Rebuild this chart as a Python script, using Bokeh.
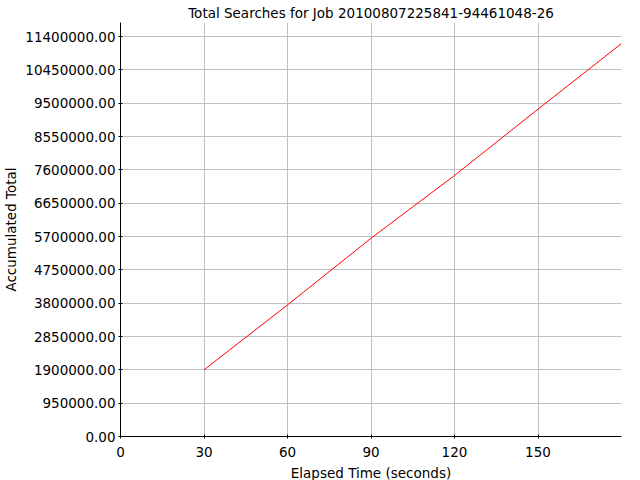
from bokeh.plotting import figure
from bokeh.models import FixedTicker, NumeralTickFormatter, Range1d
from bokeh.embed import file_html
from bokeh.resources import INLINE

# Data
elapsed_seconds = [30, 60, 90, 120, 150, 180]
accumulated_total = [1900000, 3750000, 5650000, 7440000, 9330000, 11200000]

x_ticks = [0, 30, 60, 90, 120, 150]
y_ticks = [0, 950000, 1900000, 2850000, 3800000, 4750000, 5700000,
           6650000, 7600000, 8550000, 9500000, 10450000, 11400000]

FONT = "DejaVu Sans"

p = figure(
    frame_width=501, frame_height=414,
    output_backend="svg", toolbar_location=None,
    x_range=Range1d(0, 180), y_range=Range1d(0, 11800000),
    title="Total Searches for Job 20100807225841-94461048-26",
    x_axis_label="Elapsed Time (seconds)",
    y_axis_label="Accumulated Total",
    min_border_left=0, min_border_right=10, min_border_top=0, min_border_bottom=0,
)

p.line(elapsed_seconds, accumulated_total, line_color="#ff0000", line_width=1)

p.title.align = "center"
p.title.text_font = FONT
p.title.text_font_size = "13.5px"
p.title.text_font_style = "normal"
p.title.text_color = "#000000"
p.title.standoff = 4

p.xaxis.ticker = FixedTicker(ticks=x_ticks)
p.yaxis.ticker = FixedTicker(ticks=y_ticks)
p.yaxis.formatter = NumeralTickFormatter(format="0.00")

for ax in (p.xaxis[0], p.yaxis[0]):
    ax.axis_line_color = "#000000"
    ax.major_tick_line_color = "#000000"
    ax.major_tick_in = 2
    ax.major_tick_out = 2
    ax.minor_tick_line_color = None
    ax.major_label_text_font = FONT
    ax.major_label_text_font_size = "13.5px"
    ax.major_label_text_color = "#000000"
    ax.axis_label_text_font = FONT
    ax.axis_label_text_font_size = "13.5px"
    ax.axis_label_text_font_style = "normal"
    ax.axis_label_text_color = "#000000"

p.xaxis.major_label_standoff = 8
p.xaxis.axis_label_standoff = 5
p.yaxis.major_label_standoff = 3
p.yaxis.axis_label_standoff = 3

p.grid.grid_line_color = "#c0c0c0"
p.grid.grid_line_width = 1
p.outline_line_color = None
p.background_fill_color = "#ffffff"
p.border_fill_color = "#ffffff"

open("out.html", "w").write(file_html(p, INLINE))
